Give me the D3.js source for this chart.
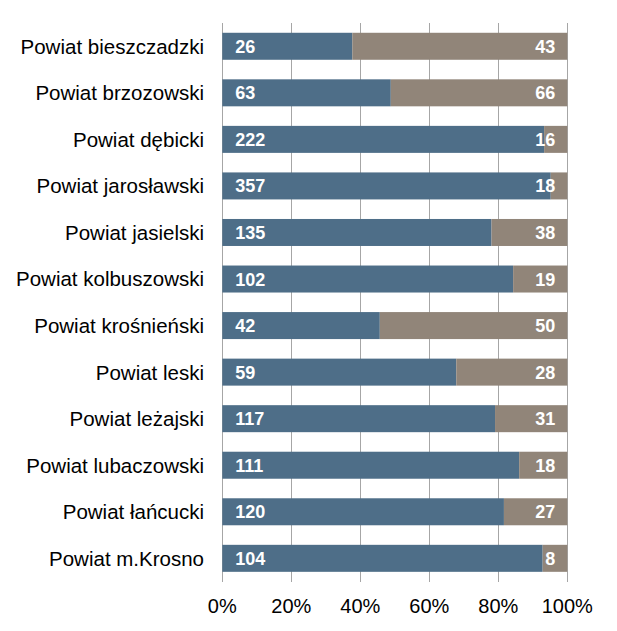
<!DOCTYPE html>
<html><head><meta charset="utf-8">
<script src="https://cdn.jsdelivr.net/npm/d3@7"></script>
<style>body{margin:0;background:#fff}svg{display:block}</style>
</head><body>
<script>
const categories = ["Powiat bieszczadzki","Powiat brzozowski","Powiat dębicki","Powiat jarosławski","Powiat jasielski","Powiat kolbuszowski","Powiat krośnieński","Powiat leski","Powiat leżajski","Powiat lubaczowski","Powiat łańcucki","Powiat m.Krosno"];
const seriesA = [26,63,222,357,135,102,42,59,117,111,120,104];
const seriesB = [43,66,16,18,38,19,50,28,31,18,27,8];
const tickValues = [0,0.2,0.4,0.6,0.8,1];

const W=617,H=631;
const svg=d3.select("body").append("svg").attr("width",W).attr("height",H);
const x=d3.scaleLinear().domain([0,1]).range([222.3,567.3]);
const y=d3.scaleBand().domain(categories).range([23,581.6]).paddingInner(0.42).paddingOuter(0.21);
const font="Liberation Sans, Arial, sans-serif";

// gridlines
svg.append("g").selectAll("line").data(tickValues).join("line")
  .attr("x1",d=>Math.round(x(d))+0.5).attr("x2",d=>Math.round(x(d))+0.5)
  .attr("y1",23).attr("y2",582).attr("stroke","#A6A6A6").attr("stroke-width",1);

const data=categories.map((c,i)=>({c,a:seriesA[i],b:seriesB[i],t:seriesA[i]+seriesB[i]}));
const g=svg.append("g");
g.selectAll("rect.a").data(data).join("rect").attr("class","a")
  .attr("x",x(0)).attr("y",d=>y(d.c)).attr("height",y.bandwidth())
  .attr("width",d=>x(d.a/d.t)-x(0)).attr("fill","#4E6E88");
g.selectAll("rect.b").data(data).join("rect").attr("class","b")
  .attr("x",d=>x(d.a/d.t)).attr("y",d=>y(d.c)).attr("height",y.bandwidth())
  .attr("width",d=>x(1)-x(d.a/d.t)).attr("fill","#918579");

g.selectAll("text.a").data(data).join("text").attr("class","a")
  .attr("x",x(0)+13).attr("y",d=>y(d.c)+y.bandwidth()/2).attr("dy","0.36em")
  .attr("fill","#fff").attr("font-family",font).attr("font-weight","bold").attr("font-size",18)
  .text(d=>d.a);
g.selectAll("text.b").data(data).join("text").attr("class","b")
  .attr("x",x(1)-12).attr("y",d=>y(d.c)+y.bandwidth()/2).attr("dy","0.36em")
  .attr("text-anchor","end")
  .attr("fill","#fff").attr("font-family",font).attr("font-weight","bold").attr("font-size",18)
  .text(d=>d.b);

// category labels
svg.append("g").selectAll("text").data(categories).join("text")
  .attr("x",204).attr("y",d=>y(d)+y.bandwidth()/2).attr("dy","0.36em")
  .attr("text-anchor","end").attr("font-family",font).attr("font-size",20.5).attr("fill","#000")
  .text(d=>d);

// x tick labels
svg.append("g").selectAll("text").data(tickValues).join("text")
  .attr("x",d=>x(d)).attr("y",613).attr("text-anchor","middle")
  .attr("font-family",font).attr("font-size",20).attr("fill","#000")
  .text(d=>d3.format(".0%")(d));
</script>
</body></html>
